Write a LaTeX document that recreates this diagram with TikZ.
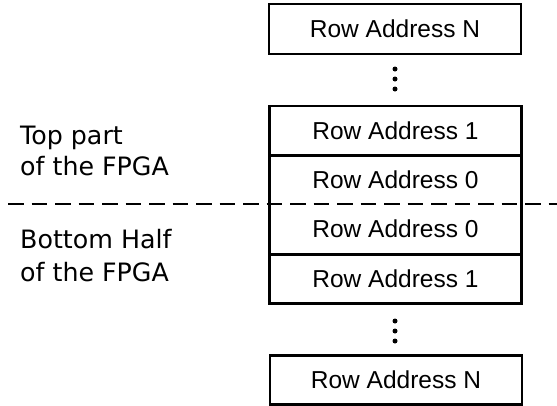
\documentclass[tikz,border=0pt]{standalone}
\usepackage{fontspec}
\setmainfont{Liberation Sans}
\newfontfamily\lblfont{DejaVu Sans}
\begin{document}
\begin{tikzpicture}[x=1pt,y=-1pt,
  rowtxt/.style={font=\fontsize{24.5}{28}\selectfont, inner sep=0pt, minimum width=252pt},
  rowbox/.style={rowtxt, draw, line width=2.6pt},
  sidelbl/.style={font=\lblfont\fontsize{25.3}{30}\selectfont, inner sep=0pt, anchor=base west},
  vdot/.style={circle, fill=black, inner sep=0pt, minimum size=5pt},
  edge/.style={line width=2.6pt},
  sep/.style={line width=2.4pt, dash pattern=on 15.5pt off 8pt}
]
\useasboundingbox (0,0) rectangle (557,405);
% top stack
\node[rowbox, minimum height=50pt] (nTop) at (395,29) {Row Address N};
\node[vdot] (d1) at (395,69) {};
\node[vdot] (d2) at (395,79) {};
\node[vdot] (d3) at (395,89) {};
\node[rowtxt, minimum height=49pt] (r1t) at (395.5,130.5) {Row Address 1};
\node[rowtxt, minimum height=49pt] (r0t) at (395.5,179.5) {Row Address 0};
\node[rowtxt, minimum height=50pt] (r0b) at (395.5,229) {Row Address 0};
\node[rowtxt, minimum height=49pt] (r1b) at (395.5,278.5) {Row Address 1};
\draw[edge] (r1t.north west) rectangle (r1b.south east);
\draw[edge] (r1t.south west) -- (r1t.south east);
\draw[edge] (r0b.south west) -- (r0b.south east);
\node[vdot] (d4) at (395,321) {};
\node[vdot] (d5) at (395,331) {};
\node[vdot] (d6) at (395,341) {};
\node[rowbox, minimum height=49pt] (nBot) at (396,380) {Row Address N};
% divider
\coordinate (dl) at (8,204);
\coordinate (dr) at (557,204);
\draw[sep] (dl) -- (dr);
% side labels
\node[sidelbl] (t1) at (20,144) {Top part};
\node[sidelbl] (t2) at (20,175) {of the FPGA};
\node[sidelbl] (b1) at (20,248) {Bottom Half};
\node[sidelbl] (b2) at (20,281) {of the FPGA};
\end{tikzpicture}
\end{document}
